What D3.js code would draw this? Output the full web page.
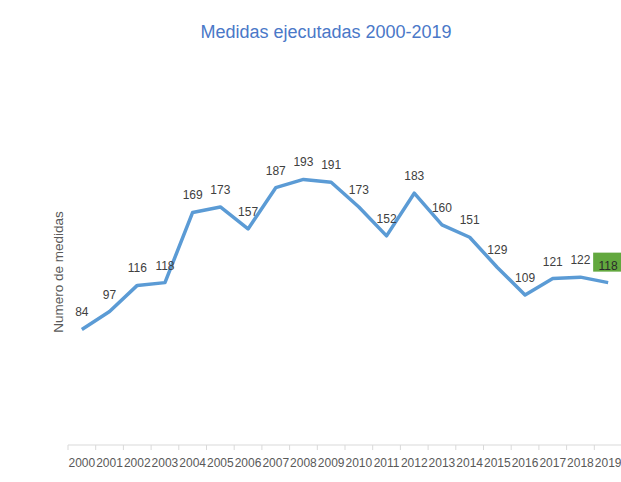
<!DOCTYPE html>
<html lang="es">
<head>
  <meta charset="UTF-8">
  <title>Medidas ejecutadas 2000-2019</title>
  <script src="https://cdn.jsdelivr.net/npm/d3@7"></script>
  <style>
    body { margin: 0; background: #fff; }
    text { font-family: "Liberation Sans", Arial, sans-serif; }
  </style>
</head>
<body>
<div id="chart"></div>
<script>
const years = ["2000", "2001", "2002", "2003", "2004", "2005", "2006", "2007", "2008", "2009",
  "2010", "2011", "2012", "2013", "2014", "2015", "2016", "2017", "2018", "2019"];
const medidas = [84, 97, 116, 118, 169, 173, 157, 187, 193, 191,
  173, 152, 183, 160, 151, 129, 109, 121, 122, 118];
const yDomain = [0, 250];

const width = 621, height = 482;
const margin = { top: 101, right: -1, bottom: 37, left: 68 };

const svg = d3.select("#chart").append("svg")
  .attr("width", width)
  .attr("height", height);

const x = d3.scaleBand()
  .domain(years)
  .range([margin.left, width - margin.right]);

const y = d3.scaleLinear()
  .domain(yDomain)
  .range([height - margin.bottom, margin.top]);

// title
svg.append("text")
  .attr("x", 326)
  .attr("y", 38)
  .attr("text-anchor", "middle")
  .attr("font-size", 18)
  .attr("fill", "#4a78c8")
  .text("Medidas ejecutadas 2000-2019");

// y axis title
svg.append("text")
  .attr("transform", `translate(63,${272}) rotate(-90)`)
  .attr("text-anchor", "middle")
  .attr("font-size", 13.5)
  .attr("fill", "#595959")
  .text("Numero de medidas");

// x axis with ticks between categories
const axisY = y(0);
const xAxisG = svg.append("g");
xAxisG.append("line")
  .attr("x1", x.range()[0]).attr("x2", x.range()[1])
  .attr("y1", axisY).attr("y2", axisY)
  .attr("stroke", "#d9d9d9");
xAxisG.selectAll("line.tick")
  .data(years)
  .enter().append("line")
  .attr("class", "tick")
  .attr("x1", d => x(d)).attr("x2", d => x(d))
  .attr("y1", axisY).attr("y2", axisY + 5)
  .attr("stroke", "#d9d9d9");
xAxisG.selectAll("text")
  .data(years)
  .enter().append("text")
  .attr("x", d => x(d) + x.bandwidth() / 2)
  .attr("y", axisY + 22)
  .attr("text-anchor", "middle")
  .attr("font-size", 12)
  .attr("fill", "#595959")
  .text(d => d);

// line
const line = d3.line()
  .x((d, i) => x(years[i]) + x.bandwidth() / 2)
  .y(d => y(d));

svg.append("path")
  .datum(medidas)
  .attr("d", line)
  .attr("fill", "none")
  .attr("stroke", "#5b9bd5")
  .attr("stroke-width", 3.5)
  .attr("stroke-linejoin", "round");

// highlight box for last value
const last = medidas.length - 1;
const cxLast = x(years[last]) + x.bandwidth() / 2;
svg.append("rect")
  .attr("x", cxLast - 15)
  .attr("y", y(medidas[last]) - 30)
  .attr("width", 30)
  .attr("height", 19)
  .attr("fill", "#62a83e");

// data labels
svg.selectAll("text.label")
  .data(medidas)
  .enter().append("text")
  .attr("class", "label")
  .attr("x", (d, i) => x(years[i]) + x.bandwidth() / 2)
  .attr("y", d => y(d) - 13)
  .attr("text-anchor", "middle")
  .attr("font-size", 12)
  .attr("fill", (d, i) => i === last ? "#2b2b2b" : "#404040")
  .text(d => d);
</script>
</body>
</html>
